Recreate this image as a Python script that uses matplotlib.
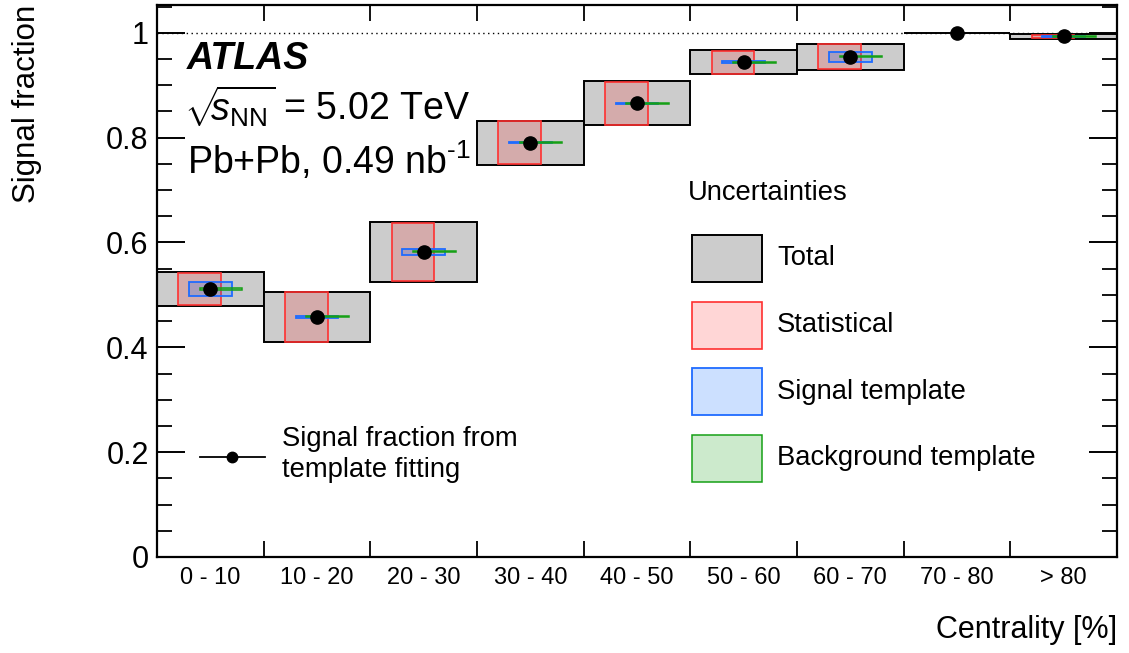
"""Signal fraction vs centrality (ATLAS Pb+Pb 5.02 TeV), con desglose de incertidumbres."""

import matplotlib

matplotlib.use("Agg")
import matplotlib.pyplot as plt
import numpy as np
from matplotlib.patches import Rectangle
from matplotlib.ticker import FuncFormatter, MultipleLocator

plt.rcParams["font.family"] = ["Liberation Sans", "DejaVu Sans"]
plt.rcParams["mathtext.fontset"] = "custom"
plt.rcParams["mathtext.rm"] = "Liberation Sans"
plt.rcParams["mathtext.it"] = "Liberation Sans:italic"
plt.rcParams["mathtext.bf"] = "Liberation Sans:bold"

# ---------------------------------------------------------------------------
# Datos
# ---------------------------------------------------------------------------
centrality_labels = ["0 - 10", "10 - 20", "20 - 30", "30 - 40", "40 - 50",
                     "50 - 60", "60 - 70", "70 - 80", "> 80"]
signal_fraction = [0.511, 0.458, 0.582, 0.790, 0.866, 0.944, 0.954, 1.000, 0.993]
err_total = [0.033, 0.048, 0.057, 0.042, 0.042, 0.023, 0.025, 0.0, 0.004]
err_stat = [0.030, 0.047, 0.056, 0.041, 0.041, 0.022, 0.024, 0.0, 0.002]
err_signal_tmpl = [0.014, 0.002, 0.005, 0.001, 0.001, 0.002, 0.010, 0.0, 0.001]
err_bkg_tmpl = [0.002, 0.001, 0.001, 0.001, 0.001, 0.001, 0.001, 0.0, 0.001]

legend_entries = ["Total", "Statistical", "Signal template", "Background template"]

# Estilo de cada componente: (relleno, borde, ancho de línea, desplazamiento dentro del bin)
GRAY_FILL, GRAY_EDGE = "#cccccc", "black"
RED_FILL, RED_EDGE = (1.0, 0.0, 0.0, 0.16), "#ff3030"
BLUE_FILL, BLUE_EDGE = (0.0, 0.40, 1.0, 0.20), "#1f6bff"
GREEN_FILL, GREEN_EDGE = (0.0, 0.60, 0.0, 0.20), "#16a016"

COMPONENTS = [
    (err_stat, RED_FILL, RED_EDGE, 1.2, 0.2),
    (err_signal_tmpl, BLUE_FILL, BLUE_EDGE, 1.3, 0.3),
    (err_bkg_tmpl, GREEN_FILL, GREEN_EDGE, 1.1, 0.4),
]
SUB_WIDTH = 0.4

fig = plt.figure(figsize=(11.29, 6.53), dpi=100)
ax = fig.add_axes([157 / 1129, 1 - 557 / 653, 960 / 1129, 552 / 653])

n_bins = len(centrality_labels)
x_edges = np.arange(n_bins + 1)
x_centers = x_edges[:-1] + 0.5
values = np.asarray(signal_fraction)

ax.axhline(1.0, color="black", lw=1.0, ls=(0, (1, 2.5)), zorder=1)

# Caja total: ocupa todo el bin
for x0, v, e in zip(x_edges[:-1], values, err_total):
    ax.add_patch(Rectangle((x0, v - e), 1.0, 2 * e, facecolor=GRAY_FILL,
                           edgecolor=GRAY_EDGE, lw=1.4, zorder=2))

# Componentes: cajas estrechas desplazadas dentro del bin (sin error -> no se dibuja)
for errs, fill, edge, lw, offset in COMPONENTS:
    for x0, v, e in zip(x_edges[:-1], values, errs):
        if e <= 0:
            continue
        ax.add_patch(Rectangle((x0 + offset, v - e), SUB_WIDTH, 2 * e,
                               facecolor=fill, edgecolor=edge, lw=lw, zorder=3))

ax.plot(x_centers, values, "o", color="black", ms=9.5, zorder=5)

# Ejes
ax.set_xlim(0, n_bins)
ax.set_ylim(0, 1.053)
ax.set_xticks(x_centers)
ax.set_xticklabels(centrality_labels)
ax.set_xticks(x_edges, minor=True)
ax.tick_params(axis="x", which="major", length=0, pad=7, labelsize=17)
ax.tick_params(axis="x", which="minor", direction="in", length=11.5, width=1.3,
               top=True, bottom=True)
ax.yaxis.set_major_locator(MultipleLocator(0.2))
ax.yaxis.set_minor_locator(MultipleLocator(0.05))
ax.yaxis.set_major_formatter(FuncFormatter(lambda v, _: f"{v:g}"))
ax.tick_params(axis="y", which="major", direction="in", length=20, width=1.4,
               left=True, right=True, labelsize=22, pad=6)
ax.tick_params(axis="y", which="minor", direction="in", length=10.5, width=1.3,
               left=True, right=True)
for spine in ax.spines.values():
    spine.set_linewidth(1.6)

ax.set_ylabel("Signal fraction", fontsize=22.5, loc="top")
ax.yaxis.set_label_coords(-0.120, 1.0)
ax.set_xlabel("Centrality [%]", fontsize=22, loc="right")
ax.xaxis.set_label_coords(1.0, -0.105)

# Etiquetas ATLAS
ax.text(0.031, 0.884, "ATLAS", transform=ax.transAxes, fontsize=27,
        fontweight="bold", fontstyle="italic", va="baseline")
ax.text(0.028, 0.790, r"$\sqrt{\!\!s_{\mathrm{NN}}}$ = 5.02 TeV", transform=ax.transAxes,
        fontsize=27, va="baseline")
ax.text(0.031, 0.694, r"Pb+Pb, 0.49 nb$^{\text{-1}}$", transform=ax.transAxes,
        fontsize=27, va="baseline")

# Leyenda de incertidumbres (manual, estilo ROOT)
ax.text(0.553, 0.659, "Uncertainties", transform=ax.transAxes, fontsize=19.7,
        va="center", ha="left")
swatch_styles = [(GRAY_FILL, GRAY_EDGE, 1.4), (RED_FILL, RED_EDGE, 1.2),
                 (BLUE_FILL, BLUE_EDGE, 1.3), (GREEN_FILL, GREEN_EDGE, 1.1)]
legend_y = [0.541, 0.420, 0.299, 0.179]
sw_w, sw_h = 0.0729, 0.0851
for label, (fill, edge, lw), yc in zip(legend_entries, swatch_styles, legend_y):
    ax.add_patch(Rectangle((0.557, yc - sw_h / 2), sw_w, sw_h, facecolor=fill,
                           edgecolor=edge, lw=lw, transform=ax.transAxes,
                           clip_on=False, zorder=4))
    ax.text(0.646, yc, label, transform=ax.transAxes, fontsize=19.7,
            va="center", ha="left")

# Leyenda del punto
ax.plot([0.0448, 0.1125], [0.181, 0.181], color="black", lw=1.3,
        transform=ax.transAxes)
ax.plot([0.078], [0.181], "o", color="black", ms=7.5, transform=ax.transAxes)
ax.text(0.130, 0.185, "Signal fraction from\ntemplate fitting", transform=ax.transAxes,
        fontsize=19.7, va="center", ha="left", linespacing=1.25)

fig.savefig("out.png", dpi=100)
